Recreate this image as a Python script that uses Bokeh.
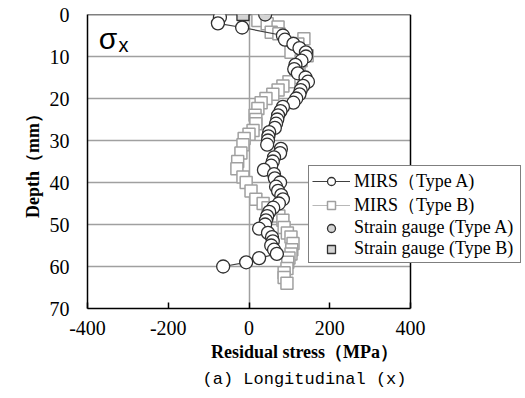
from bokeh.plotting import figure
from bokeh.models import Range1d, FixedTicker, Label, Legend, LegendItem, Title
from bokeh.embed import file_html
from bokeh.resources import INLINE

# MIRS Type A (depth mm, residual stress MPa)
depth_a = [0.7, 2.1, 3.1, 5, 6, 7, 8, 9, 10, 11, 12, 13, 14, 15, 16, 17, 18, 19, 20, 21,
           22, 23, 24, 25, 26, 27, 28, 29, 30, 31, 32, 33, 34, 35, 36, 37, 38, 39, 40, 41,
           42, 43, 44, 45, 46, 47, 48, 49, 50, 51, 52, 53, 54, 55, 56, 57, 58, 59, 60]
stress_a = [-72, -77, -17, 84, 89, 110, 125, 141, 141, 130, 115, 112, 121, 140, 146, 134, 128, 125, 117, 110,
            84, 78, 72, 70, 67, 64, 50, 48, 47, 45, 79, 77, 62, 59, 55, 37, 62, 64, 77, 67,
            72, 80, 84, 74, 60, 50, 45, 42, 40, 25, 47, 57, 59, 55, 62, 69, 25, -7, -64]

# MIRS Type B
depth_b = [1.4, 2.2, 3.0, 4.2, 4.6, 5.8, 7, 8, 9, 9.8, 11, 12.6, 13.8, 15, 16, 17, 18, 19, 20, 21,
           22.4, 24, 25, 26, 27.6, 28.5, 29.5, 31, 33, 35, 36.7, 38.7, 40, 42, 44, 45, 46, 47, 48, 49,
           50.7, 52, 53, 54.5, 56, 57, 58, 59, 60.5, 61.5, 62.6, 64]
stress_b = [22, 45, 72, 55, 74, 136, 121, 110, 104, 144, 129, 124, 121, 116, 99, 84, 72, 59, 42, 30,
            22, 15, 17, 17, 10, 0, -12, -15, -20, -28, -30, -15, -7, 5, 17, 35, 47, 67, 74, 84,
            87, 95, 104, 109, 106, 104, 99, 96, 94, 87, 87, 94]

# Strain gauges at surface
sg_a_depth = [0]
sg_a_stress = [40]
sg_b_depth = [0]
sg_b_stress = [-15]

x_ticks = [-400, -200, 0, 200, 400]
x_tick_labels = ["-400", "-200", "0", "200", "400"]
y_ticks = [0, 10, 20, 30, 40, 50, 60, 70]
x_min, x_max = -400, 400
y_min, y_max = 0, 70

W, H = 521, 392
left, top, frame_r, frame_b = 87, 14, 410, 308
px_per_unit = (frame_r - left) / (x_max - x_min)
x_ext = x_max + (W - frame_r) / px_per_unit   # room for the legend overhanging the box

p = figure(width=W, height=H, output_backend="svg", toolbar_location=None,
           x_range=Range1d(x_min, x_ext), y_range=Range1d(y_max, y_min),
           min_border_left=left, min_border_right=0, min_border_top=top,
           min_border_bottom=H - frame_b)
p.background_fill_color = "white"
p.border_fill_color = "white"
p.outline_line_color = None

serif = "Liberation Serif"

p.xaxis.ticker = FixedTicker(ticks=x_ticks)
p.xaxis.major_label_overrides = dict(zip(x_ticks, x_tick_labels))
p.yaxis.ticker = FixedTicker(ticks=y_ticks)
p.xaxis.bounds = (x_min, x_max)
for ax in (p.xaxis[0], p.yaxis[0]):
    ax.axis_line_color = "black"
    ax.axis_line_width = 1.5
    ax.minor_tick_line_color = None
    ax.major_label_text_font = serif
    ax.major_label_text_font_size = "20px"
    ax.major_label_text_color = "black"
    ax.axis_label_text_font = serif
    ax.axis_label_text_font_style = "bold"
    ax.axis_label_text_font_size = "18px"
    ax.axis_label_text_color = "black"
p.xaxis.major_tick_in = 6
p.xaxis.major_tick_out = 0
p.xaxis.major_tick_line_color = "black"
p.xaxis.major_tick_line_width = 1.5
p.yaxis.major_tick_in = 0
p.yaxis.major_tick_out = 0
p.xaxis.major_label_standoff = 12
p.yaxis.major_label_standoff = 18
p.xaxis.axis_label = "Residual stress（MPa）"
p.yaxis.axis_label = "Depth（mm）"
p.xaxis.axis_label_standoff = 4
p.yaxis.axis_label_standoff = 4

p.xgrid.ticker = FixedTicker(ticks=[0])
p.xgrid.grid_line_color = "#a0a0a0"
p.xgrid.grid_line_width = 1.5
p.ygrid.visible = False

# horizontal grid lines limited to the plot box
grid_y = y_ticks[1:-1]
p.segment(x0=[x_min] * len(grid_y), x1=[x_max] * len(grid_y), y0=grid_y, y1=grid_y,
          line_color="#a0a0a0", line_width=1.5)
# top and right edges of the box
p.segment(x0=[x_min, x_max], x1=[x_max, x_max], y0=[y_min, y_min], y1=[y_min, y_max],
          line_color="black", line_width=1.5)

# Type B
lb = p.line(stress_b, depth_b, line_color="#b8b8b8", line_width=1)
sb = p.scatter(stress_b, depth_b, marker="square", size=12, fill_color="white",
               line_color="#a0a0a0", line_width=1.5)
# Type A
la = p.line(stress_a, depth_a, line_color="#404040", line_width=1.2)
sa = p.scatter(stress_a, depth_a, marker="circle", size=13, fill_color="white",
               line_color="#303030", line_width=1.3)
# strain gauges
ga = p.scatter(sg_a_stress, sg_a_depth, marker="circle", size=13, fill_color="#d4d4d4",
               line_color="#303030", line_width=1.3)
gb = p.scatter(sg_b_stress, sg_b_depth, marker="square", size=12, fill_color="#d4d4d4",
               line_color="#303030", line_width=1.3)

p.add_layout(Label(x=-372, y=5.6, text="σ", text_font="Liberation Sans",
                   text_font_size="30px", text_color="black", text_baseline="alphabetic"))
p.add_layout(Label(x=-323, y=7.3, text="x", text_font="Liberation Sans",
                   text_font_size="20px", text_color="black", text_baseline="alphabetic"))

legend = Legend(items=[
    LegendItem(label="MIRS（Type A)", renderers=[la, sa]),
    LegendItem(label="MIRS（Type B)", renderers=[lb, sb]),
    LegendItem(label="Strain gauge (Type A)", renderers=[ga]),
    LegendItem(label="Strain gauge (Type B)", renderers=[gb]),
], location=(221, 45))
legend.border_line_color = "black"
legend.border_line_width = 1
legend.background_fill_alpha = 1
legend.label_text_font = serif
legend.label_text_font_size = "18px"
legend.label_text_color = "black"
legend.label_height = 20
legend.glyph_height = 20
legend.glyph_width = 38
legend.label_width = 163
legend.label_standoff = 4
legend.spacing = 0
legend.padding = 3
legend.margin = 0
p.add_layout(legend, "center")

cap = Title(text="(a) Longitudinal (x)", align="center", text_font="Liberation Mono",
            text_font_size="17px", text_font_style="normal", text_color="black",
            standoff=6, offset=0)
p.add_layout(cap, "below")

open("out.html", "w").write(file_html(p, INLINE))
